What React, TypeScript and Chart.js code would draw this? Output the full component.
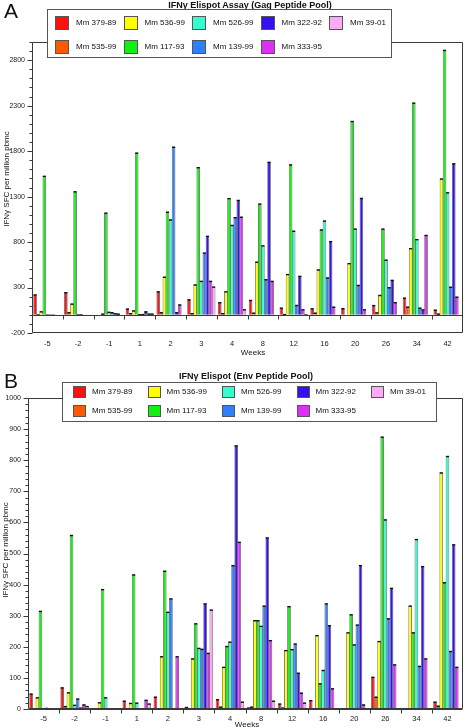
import React, { useEffect, useRef } from 'react';
import { Chart, registerables } from 'chart.js';
Chart.register(...registerables);

// ---------- data ----------
const weeks = ['-5', '-2', '-1', '1', '2', '3', '4', '8', '12', '16', '20', '26', '34', '42'];
const seriesNames = ['Mm 379-89', 'Mm 535-99', 'Mm 536-99', 'Mm 117-93', 'Mm 526-99', 'Mm 139-99', 'Mm 322-92', 'Mm 333-95', 'Mm 39-01'];
const seriesColors = ['#ff1010', '#ff5a00', '#ffff00', '#11f011', '#33ffcc', '#2f80ff', '#3412f0', '#dd30f5', '#ffaaf8'];
const legendOrder = [0, 2, 4, 6, 8, 1, 3, 5, 7];

// Panel A: Gag peptide pool
const gag37989 = [225, 250, 0, 70, 260, 172, 140, 165, 80, 73, 75, 109, 190, 58];
const gag53599 = [5, 30, 0, 20, 30, 20, 20, 25, 10, 25, 0, 28, 91, 15];
const gag53699 = [40, 125, 15, 50, 420, 335, 260, 585, 450, 500, 570, 220, 735, 1500];
const gag11793 = [1530, 1360, 1125, 1785, 1135, 1625, 1285, 1225, 1655, 940, 2133, 950, 2335, 2915];
const gag52699 = [3, 5, 35, 8, 1050, 375, 990, 765, 926, 1038, 950, 608, 834, 1349];
const gag13999 = [2, 5, 30, 10, 1850, 686, 1075, 393, 110, 412, 330, 305, 80, 310];
const gag32292 = [2, 0, 20, 40, 30, 870, 1265, 1684, 430, 812, 1287, 386, 61, 1668];
const gag33395 = [0, 0, 15, 15, 115, 375, 1080, 375, 62, 91, 62, 140, 880, 201];
const gag3901 = [0, 0, 0, 15, 0, 312, 62, 0, 5, 0, 0, 0, 0, 0];

// Panel B: Env peptide pool
const env37989 = [50, 70, 0, 27, 40, 7, 32, 5, 18, 29, 0, 104, 0, 24];
const env53599 = [0, 10, 0, 3, 0, 2, 8, 8, 5, 0, 2, 40, 0, 11];
const env53699 = [38, 54, 22, 20, 170, 163, 136, 286, 190, 238, 247, 219, 333, 761];
const env11793 = [316, 560, 386, 433, 445, 276, 203, 286, 331, 83, 305, 876, 247, 408];
const env52699 = [0, 14, 38, 21, 313, 197, 217, 268, 193, 126, 208, 610, 547, 814];
const env13999 = [4, 34, 0, 0, 356, 194, 463, 333, 211, 340, 272, 292, 139, 187];
const env32292 = [0, 5, 0, 0, 0, 340, 848, 552, 117, 270, 463, 390, 460, 530];
const env33395 = [0, 15, 0, 30, 170, 181, 538, 222, 53, 67, 15, 144, 163, 136];
const env3901 = [0, 10, 0, 18, 0, 320, 24, 27, 21, 0, 0, 0, 0, 0];

const gagSeries = [gag37989, gag53599, gag53699, gag11793, gag52699, gag13999, gag32292, gag33395, gag3901];
const envSeries = [env37989, env53599, env53699, env11793, env52699, env13999, env32292, env33395, env3901];

const gagTicks = [-200, 300, 800, 1300, 1800, 2300, 2800];
const envTicks = [0, 100, 200, 300, 400, 500, 600, 700, 800, 900, 1000];

const FONT = '"Liberation Sans", Arial, Helvetica, sans-serif';

// ---------- plugin: frame, zero line, ticks, caps ----------
const framePlugin = {
  id: 'frame',
  afterDatasetsDraw(chart: any, _args: any, opts: any) {
    const { ctx, chartArea: ca, scales } = chart;
    const y = scales.y;
    const x = scales.x;
    ctx.save();
    // caps on bar tops
    ctx.strokeStyle = '#111';
    ctx.lineWidth = 1.4;
    chart.data.datasets.forEach((ds: any, di: number) => {
      const meta = chart.getDatasetMeta(di);
      meta.data.forEach((bar: any, i: number) => {
        const v = ds.data[i];
        if (!v) return;
        ctx.beginPath();
        ctx.moveTo(bar.x - bar.width / 2 + 0.3, bar.y + 0.7);
        ctx.lineTo(bar.x + bar.width / 2 - 0.3, bar.y + 0.7);
        ctx.stroke();
      });
    });
    ctx.strokeStyle = '#3a3a3a';
    ctx.lineWidth = 1;
    const L = Math.round(ca.left) + 0.5;
    const R = Math.round(ca.right) - 0.5;
    const T = Math.round(ca.top) + 0.5;
    const B = Math.round(ca.bottom) - 0.5;
    ctx.beginPath();
    ctx.rect(L, T, R - L, B - T);
    ctx.stroke();
    const y0 = Math.round(y.getPixelForValue(0)) + 0.5;
    ctx.beginPath();
    ctx.moveTo(L, y0);
    ctx.lineTo(R, y0);
    const n = chart.data.labels.length;
    for (let k = 1; k < n; k++) {
      const xk = Math.round((x.getPixelForValue(k - 1) + x.getPixelForValue(k)) / 2) + 0.5;
      ctx.moveTo(xk, y0);
      ctx.lineTo(xk, y0 + 4);
    }
    // y ticks
    const majors: number[] = opts.majors;
    for (let v = y.min; v <= y.max + 1e-6; v += opts.minor) {
      const py = Math.round(y.getPixelForValue(v)) + 0.5;
      const len = majors.includes(v) ? 5 : 3;
      ctx.moveTo(L - len, py);
      ctx.lineTo(L, py);
    }
    ctx.stroke();
    ctx.restore();
  },
};

function makeChart(canvas: HTMLCanvasElement, series: number[][], cfg: any) {
  return new Chart(canvas, {
    type: 'bar',
    data: {
      labels: weeks,
      datasets: series.map((d, i) => ({
        label: seriesNames[i],
        data: d,
        backgroundColor: seriesColors[i],
        borderColor: '#6a6a6a',
        borderWidth: 0.9,
        categoryPercentage: 0.9,
        barPercentage: 1.18,
      })),
    },
    options: {
      responsive: false,
      maintainAspectRatio: false,
      animation: false,
      events: [],
      layout: { padding: { top: cfg.padTop, left: 0, right: 1, bottom: 0 } },
      plugins: {
        legend: { display: false },
        title: { display: false },
        tooltip: { enabled: false },
        frame: { minor: cfg.minor, majors: cfg.ticks },
      } as any,
      scales: {
        x: {
          grid: { display: false, drawTicks: false },
          border: { display: false },
          ticks: { color: '#222', font: { family: FONT, size: 7.5 }, padding: cfg.xPad, maxRotation: 0, autoSkip: false },
          afterFit: (s: any) => { s.height = cfg.xHeight; },
        },
        y: {
          min: cfg.min,
          max: cfg.max,
          grid: { display: false, drawTicks: false },
          border: { display: false },
          ticks: {
            color: '#222', font: { family: FONT, size: 7 }, padding: 7,
            callback: (v: any) => String(v),
          },
          afterBuildTicks: (s: any) => { s.ticks = cfg.ticks.map((v: number) => ({ value: v })); },
          afterFit: (s: any) => { s.width = cfg.yWidth; },
        },
      },
    },
    plugins: [framePlugin],
  } as any);
}

function ChartCanvas({ series, cfg, top, height }: any) {
  const ref = useRef<HTMLCanvasElement>(null);
  useEffect(() => {
    const c = makeChart(ref.current!, series, cfg);
    return () => c.destroy();
  }, []);
  return (
    <canvas
      ref={ref}
      width={464}
      height={height}
      style={{ position: 'absolute', left: 0, top, width: 464, height, display: 'block' }}
    />
  );
}

function Legend({ left, top, width, height, colX, rowY, sw, sh, gap }: any) {
  return (
    <div
      style={{
        position: 'absolute', left, top, width, height, boxSizing: 'border-box',
        border: '1px solid #555', background: '#fff',
      }}
    >
      {legendOrder.map((si, pos) => {
        const col = pos % 5;
        const row = Math.floor(pos / 5);
        return (
          <React.Fragment key={si}>
            <div
              style={{
                position: 'absolute', left: colX[col] - left, top: rowY[row] - top,
                width: sw, height: sh, boxSizing: 'border-box',
                background: seriesColors[si], border: '1px solid #555',
              }}
            />
            <div
              style={{
                position: 'absolute', left: colX[col] - left + sw + gap, top: rowY[row] - top,
                height: sh, lineHeight: sh + 'px', fontSize: 8, fontFamily: FONT, color: '#111', whiteSpace: 'nowrap',
              }}
            >
              {seriesNames[si]}
            </div>
          </React.Fragment>
        );
      })}
    </div>
  );
}

const textAbs = (x: number, y: number, size: number, bold = false, extra: any = {}) => ({
  position: 'absolute' as const, left: x, top: y, transform: 'translate(-50%, -50%)',
  fontFamily: FONT, fontSize: size, fontWeight: bold ? 'bold' : 'normal', color: '#111',
  whiteSpace: 'nowrap' as const, lineHeight: 1, ...extra,
});

export default function App() {
  const cfgA = { padTop: 42, min: -200, max: 3000, ticks: gagTicks, minor: 100, xHeight: 29, xPad: 6, yWidth: 32 };
  const cfgB = { padTop: 33, min: 0, max: 1000, ticks: envTicks, minor: 20, xHeight: 19, xPad: 5, yWidth: 28 };
  return (
    <div style={{ position: 'absolute', left: 0, top: 0, width: 464, height: 728, background: '#fff', overflow: 'hidden' }}>
      <ChartCanvas series={gagSeries} cfg={cfgA} top={0} height={362} />
      <ChartCanvas series={envSeries} cfg={cfgB} top={365} height={363} />

      <div style={textAbs(11, 10, 21)}>A</div>
      <div style={textAbs(250, 5, 9, true)}>IFNγ Elispot Assay (Gag Peptide Pool)</div>
      <Legend left={47} top={9} width={345} height={49} colX={[54, 122.5, 191, 259.5, 328]} rowY={[15, 39]} sw={14} sh={14} gap={7} />
      <div style={textAbs(6.5, 179, 8, false, { transform: 'translate(-50%, -50%) rotate(-90deg)' })}>IFNγ SFC per million pbmc</div>
      <div style={textAbs(253, 353, 8)}>Weeks</div>

      <div style={textAbs(11, 380, 21)}>B</div>
      <div style={textAbs(246, 376, 9, true)}>IFNγ Elispot (Env Peptide Pool)</div>
      <Legend left={62} top={382} width={375} height={40} colX={[72, 146.5, 221, 295.5, 370]} rowY={[385, 404]} sw={13} sh={12} gap={6} />
      <div style={textAbs(5.5, 550, 8, false, { transform: 'translate(-50%, -50%) rotate(-90deg)' })}>IFNγ SFC per million pbmc</div>
      <div style={textAbs(247, 725, 8)}>Weeks</div>
    </div>
  );
}
